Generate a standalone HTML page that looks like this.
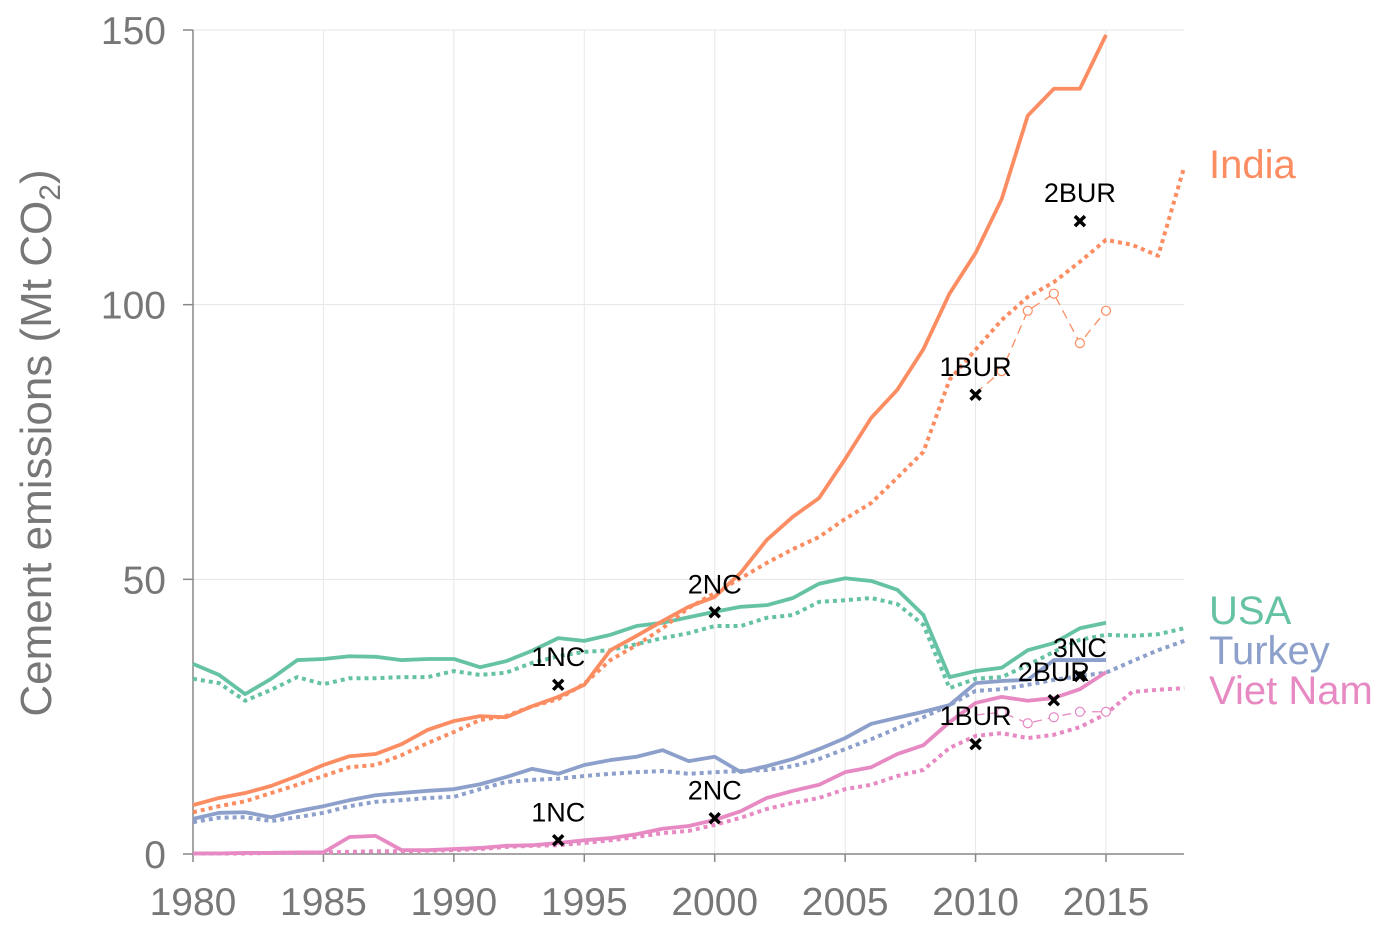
<!DOCTYPE html>
<html><head><meta charset="utf-8">
<style>
html,body{margin:0;padding:0;background:#fff;}
svg{display:block;font-family:"Liberation Sans",sans-serif;}
</style></head>
<body>
<svg id="chart" width="1394" height="927" viewBox="0 0 1394 927"></svg>
<script>
const years = [];
for (let y = 1980; y <= 2018; y++) years.push(y);
const xTicks = [1980,1985,1990,1995,2000,2005,2010,2015];
const yTicks = [0,50,100,150];

const indiaSolid = [8.9,10.2,11.1,12.4,14.2,16.2,17.8,18.2,20,22.6,24.2,25.1,24.9,26.9,28.6,30.8,37.1,39.7,42.4,45,46.8,51.2,57.2,61.4,64.8,71.9,79.4,84.5,91.9,102,109.4,119.2,134.4,139.3,139.3,149.1];
const indiaDotted = [7.6,8.7,9.6,11.1,12.6,14.2,15.8,16.2,18,20.2,22.2,24.4,25.1,26.9,28.2,31,35.3,38,41.1,44.8,47.5,50.2,53,55.5,57.7,61,63.9,68.5,73.2,86.3,91.8,97.2,101.4,104.1,107.8,111.8,110.9,108.9,125.1];
const indiaBurYears = [2010,2011,2012,2013,2014,2015];
const indiaBur = [83.9,87.9,98.9,102,93,98.9];

const usaSolid = [34.6,32.6,29.1,31.9,35.3,35.5,36,35.9,35.3,35.5,35.5,34,35.1,37,39.3,38.8,39.9,41.5,42.1,43.1,44.1,45,45.3,46.6,49.2,50.2,49.7,48.1,43.5,32.2,33.3,33.9,37.1,38.4,41.1,42.1];
const usaDotted = [31.9,31.1,27.9,29.9,32.2,30.9,32,32,32.2,32.2,33.3,32.6,33,34.8,36,36.8,37.1,38.2,39.3,40.2,41.5,41.5,43,43.5,45.9,46.2,46.6,45.5,41.7,30.2,31.9,32.2,34.4,36.8,39,39.9,39.7,40,41.1];

const turkeySolid = [6.4,7.5,7.6,6.7,7.8,8.7,9.8,10.7,11.1,11.5,11.8,12.7,14,15.5,14.6,16.2,17.1,17.7,18.9,16.9,17.7,14.9,16,17.3,19.1,21.1,23.7,24.8,25.9,27.1,31.1,31.5,31.7,35.3,35.3,35.3];
const turkeyDotted = [5.8,6.6,6.7,6,6.7,7.5,8.7,9.5,9.8,10.2,10.4,11.8,13.1,13.5,13.7,14.2,14.6,14.9,15.1,14.6,14.9,15.1,15.3,16,17.3,19.1,20.9,22.9,24.9,27.1,29.7,30,30.8,31.7,32.4,33,35.1,37.1,38.8];

const vnSolid = [0.1,0.1,0.2,0.2,0.3,0.3,3.1,3.3,0.7,0.7,0.9,1.1,1.5,1.6,2,2.5,2.9,3.6,4.6,5.1,6.2,7.8,10.2,11.5,12.6,14.9,15.8,18.2,19.8,24,27.5,28.6,27.9,28.4,30,33.1];
const vnDotted = [0.1,0.1,0.1,0.2,0.2,0.3,0.4,0.5,0.5,0.6,0.7,0.9,1.3,1.5,1.6,2,2.5,3.1,3.8,4.2,5.3,6.6,8.2,9.3,10.2,11.8,12.6,14.2,15.3,19.3,21.5,22,21.1,21.7,23.1,25.5,29.5,29.9,30.2];
const vnBurYears = [2010,2011,2012,2013,2014,2015];
const vnBur = [25.3,25.8,23.8,24.9,25.9,25.9];

const markerLabels = ["1NC","2NC","1BUR","2BUR","1NC","2NC","1BUR","2BUR","3NC"];
const markerYears = [1994,2000,2010,2014,1994,2000,2010,2013,2014];
const markerValues = [30.8,44,83.6,115.2,2.5,6.5,20,28,32.4];

const X = y => 193 + (y - 1980) * (1106 - 193) / 35;
const Y = v => 854 - v * (854 - 30) / 150;

const svg = document.getElementById('chart');
const NS = 'http://www.w3.org/2000/svg';
function mk(tag, attrs, parent) {
  const e = document.createElementNS(NS, tag);
  for (const k in attrs) e.setAttribute(k, attrs[k]);
  (parent || svg).appendChild(e);
  return e;
}

xTicks.forEach(t => {
  if (t === 1980) return;
  const g = mk('line', {x1: X(t), x2: X(t), y1: 30, y2: 854, stroke: '#e6e6e6', 'stroke-width': 1});
  
  
});
yTicks.forEach(t => {
  if (t === 0) return;
  const g = mk('line', {x1: 193, x2: 1184, y1: Y(t), y2: Y(t), stroke: '#e6e6e6', 'stroke-width': 1});
  
  
});

const ya = mk('line', {x1: 193, x2: 193, y1: 30, y2: 854, stroke: '#888', 'stroke-width': 1.5});


const xa = mk('line', {x1: 193, x2: 1184, y1: 854, y2: 854, stroke: '#888', 'stroke-width': 1.5});



yTicks.forEach(t => {
  mk('line', {x1: 183, x2: 193, y1: Y(t), y2: Y(t), stroke: '#888', 'stroke-width': 1.5});
  const tx = mk('text', {x: 166, y: Y(t) + 14, 'text-anchor': 'end', 'font-size': 39, fill: '#777'});
  tx.textContent = t;
  
  
});
xTicks.forEach(t => {
  mk('line', {x1: X(t), x2: X(t), y1: 854, y2: 862, stroke: '#888', 'stroke-width': 1.5});
  const tx = mk('text', {x: X(t), y: 915, 'text-anchor': 'middle', 'font-size': 39, fill: '#777'});
  tx.textContent = t;
  
  
});

const yt = mk('text', {x: 0, y: 0, transform: 'translate(51,443) rotate(-90)', 'text-anchor': 'middle', 'font-size': 44, fill: '#777'});
yt.innerHTML = 'Cement emissions (Mt CO<tspan font-size="30" dy="9">2</tspan><tspan dy="-9">)</tspan>';



function series(vals, xs, color, style, name) {
  const pts = vals.map((v, i) => X(xs[i]) + ',' + Y(v)).join(' ');
  const a = {points: pts, fill: 'none', stroke: color, 'stroke-linejoin': 'round'};
  if (style === 'solid') { a['stroke-width'] = 3.8; }
  else if (style === 'dotted') { a['stroke-width'] = 4; a['stroke-dasharray'] = '4,4'; }
  else { a['stroke-width'] = 1.3; a['stroke-dasharray'] = '9,6'; }
  const p = mk('polyline', a);
  
  
  if (style === 'dashed') {
    vals.forEach((v, i) => {
      if (i === 0) return;
      const c = mk('circle', {cx: X(xs[i]), cy: Y(v), r: 4.5, fill: '#fff', stroke: color, 'stroke-width': 1.2});
      
      
    });
  }
}
const C = {india: '#fc8d62', usa: '#66c2a5', turkey: '#8da0cb', vn: '#e78ac3'};
series(usaDotted, years, C.usa, 'dotted', 'usa-dotted-line');
series(usaSolid, years, C.usa, 'solid', 'usa-solid-line');
series(turkeyDotted, years, C.turkey, 'dotted', 'turkey-dotted-line');
series(turkeySolid, years, C.turkey, 'solid', 'turkey-solid-line');
series(vnDotted, years, C.vn, 'dotted', 'vietnam-dotted-line');
series(vnSolid, years, C.vn, 'solid', 'vietnam-solid-line');
series(vnBur, vnBurYears, C.vn, 'dashed', 'vietnam-bur-line');
series(indiaDotted, years, C.india, 'dotted', 'india-dotted-line');
series(indiaSolid, years, C.india, 'solid', 'india-solid-line');
series(indiaBur, indiaBurYears, C.india, 'dashed', 'india-bur-line');

markerYears.forEach((yr, i) => {
  const cx = X(yr), cy = Y(markerValues[i]);
  const g = mk('g', {});
  
  
  mk('path', {d: `M${cx-5},${cy-5}L${cx+5},${cy+5}M${cx+5},${cy-5}L${cx-5},${cy+5}`, stroke: '#000', 'stroke-width': 3.5}, g);
  const t = mk('text', {x: cx, y: cy - 19, 'text-anchor': 'middle', 'font-size': 27, fill: '#000'}, g);
  t.textContent = markerLabels[i];
});

const legendNames = ['India', 'USA', 'Turkey', 'Viet Nam'];
const legendColors = [C.india, C.usa, C.turkey, C.vn];
const legendY = [178, 624, 664, 704];
legendNames.forEach((n, i) => {
  const t = mk('text', {x: 1209, y: legendY[i], 'font-size': 40, fill: legendColors[i]});
  t.textContent = n;
  
  
});
</script>
</body></html>
